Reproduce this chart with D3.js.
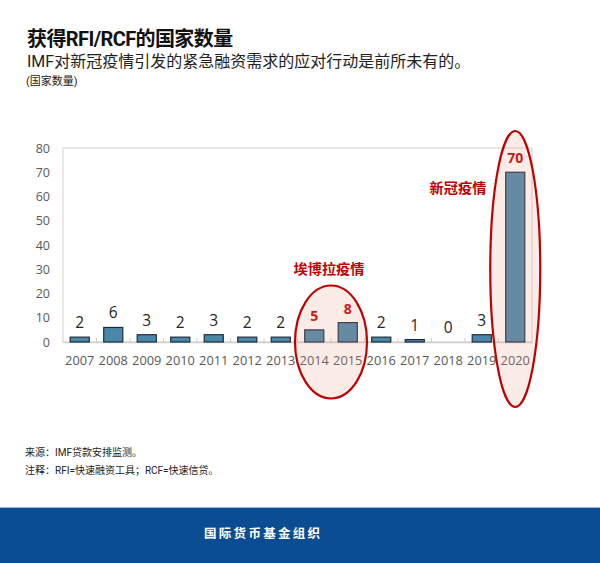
<!DOCTYPE html>
<html><head><meta charset="utf-8">
<script src="https://cdn.jsdelivr.net/npm/d3@7"></script>
<style>
body{margin:0;background:#fff;}
svg{display:block;}
</style></head>
<body>
<svg id="chart" width="600" height="563"></svg>
<script>
const years = ["2007","2008","2009","2010","2011","2012","2013","2014","2015","2016","2017","2018","2019","2020"];
const counts = [2,6,3,2,3,2,2,5,8,2,1,0,3,70];
const highlighted = ["2014","2015","2020"];
const yTicks = [0,10,20,30,40,50,60,70,80];
const titleText = "获得RFI/RCF的国家数量";
const subtitleText = "IMF对新冠疫情引发的紧急融资需求的应对行动是前所未有的。";
const unitText = "(国家数量)";
const sourceText = "来源：IMF贷款安排监测。";
const noteText = "注释：RFI=快速融资工具；RCF=快速信贷。";
const footerText = "国际货币基金组织";
const events = [
  {name:"埃博拉疫情", from:"2014", to:"2015"},
  {name:"新冠疫情", from:"2020", to:"2020"}
];

const svg = d3.select("#chart");
const cjk = "Roboto, 'Noto Sans CJK SC', sans-serif";
const num = "'Open Sans', 'Noto Sans CJK SC', sans-serif";

const L = 63, R = 532, T = 148, B = 342;
const x = d3.scaleBand().domain(years).range([L, R]).paddingInner(0.43).paddingOuter(0.215);
const y = d3.scaleLinear().domain([0, 80]).range([B, T]);

// titles
svg.append("text").attr("x", 27).attr("y", 46).attr("font-family", cjk).attr("font-weight", "bold")
  .attr("font-size", 20).attr("fill", "#111").attr("letter-spacing", -0.6).text(titleText);
svg.append("text").attr("x", 27).attr("y", 67).attr("font-family", cjk)
  .attr("font-size", 16).attr("fill", "#222").text(subtitleText);
svg.append("text").attr("x", 26).attr("y", 85).attr("font-family", cjk)
  .attr("font-size", 11).attr("fill", "#222").text(unitText);

// frame
svg.append("rect").attr("x", L).attr("y", T).attr("width", R - L).attr("height", B - T)
  .attr("fill", "none").attr("stroke", "#d9d9d9").attr("stroke-width", 1.2);

// y axis
const yAxis = d3.axisLeft(y).tickValues(yTicks).tickSize(0).tickPadding(13);
const gy = svg.append("g").attr("transform", `translate(${L},0)`).call(yAxis);
gy.select(".domain").remove();
gy.selectAll("text").attr("font-family", num).attr("font-size", 12.5).attr("fill", "#595959");

// x axis
const xAxis = d3.axisBottom(x).tickSize(0).tickPadding(14);
const gx = svg.append("g").attr("transform", `translate(0,${B})`).call(xAxis);
gx.select(".domain").attr("stroke", "#d0d0d0").attr("stroke-width", 1.5);
gx.selectAll("text").attr("font-family", num).attr("font-size", 12.8).attr("fill", "#595959");
// category separators
const step = x.step();
svg.append("g").selectAll("line").data(years.slice(1)).join("line")
  .attr("x1", d => x(d) - x.paddingInner() * step / 2)
  .attr("x2", d => x(d) - x.paddingInner() * step / 2)
  .attr("y1", B).attr("y2", B - 4)
  .attr("stroke", "#d0d0d0").attr("stroke-width", 1);

// bars
svg.append("g").selectAll("rect").data(years).join("rect")
  .attr("x", d => x(d)).attr("width", x.bandwidth())
  .attr("y", (d, i) => y(counts[i])).attr("height", (d, i) => B - y(counts[i]))
  .attr("fill", "#4a88ab").attr("stroke", "#1e2d38").attr("stroke-width", 1.2);

// value labels
svg.append("g").selectAll("text").data(years).join("text")
  .attr("x", d => x(d) + x.bandwidth() / 2)
  .attr("y", (d, i) => y(counts[i]) - 9)
  .attr("text-anchor", "middle")
  .attr("font-family", num)
  .attr("font-size", d => highlighted.includes(d) ? 14 : 15.5)
  .attr("font-weight", d => highlighted.includes(d) ? "bold" : "normal")
  .attr("fill", d => highlighted.includes(d) ? "#c00000" : "#262626")
  .text((d, i) => counts[i]);

// ellipses
const ell = [
  {cx: (x("2014") + x("2015") + x.bandwidth()) / 2, cy: B, rx: 36, ry: 56.5},
  {cx: x("2020") + x.bandwidth() / 2, cy: 269, rx: 25, ry: 138}
];
svg.append("g").selectAll("ellipse").data(ell).join("ellipse")
  .attr("cx", d => d.cx).attr("cy", d => d.cy).attr("rx", d => d.rx).attr("ry", d => d.ry)
  .attr("fill", "rgba(240,150,130,0.18)").attr("stroke", "#c00000").attr("stroke-width", 2.2);

// event labels
svg.append("text").attr("x", ell[0].cx - 2).attr("y", 274).attr("text-anchor", "middle")
  .attr("font-family", cjk).attr("font-weight", "bold").attr("font-size", 14.2).attr("fill", "#c00000")
  .text(events[0].name);
svg.append("text").attr("x", 458).attr("y", 193).attr("text-anchor", "middle")
  .attr("font-family", cjk).attr("font-weight", "bold").attr("font-size", 14.2).attr("fill", "#c00000")
  .text(events[1].name);

// notes
svg.append("text").attr("x", 25).attr("y", 456).attr("font-family", cjk)
  .attr("font-size", 10).attr("fill", "#222").text(sourceText);
svg.append("text").attr("x", 25).attr("y", 474).attr("font-family", cjk)
  .attr("font-size", 10).attr("fill", "#222").text(noteText);

// footer
svg.append("rect").attr("x", 0).attr("y", 507).attr("width", 600).attr("height", 56).attr("fill", "#0b4d93");
svg.append("rect").attr("x", 0).attr("y", 507).attr("width", 600).attr("height", 1).attr("fill", "#9db6d6");
svg.append("text").attr("x", 204).attr("y", 538).attr("font-family", cjk).attr("font-weight", "bold")
  .attr("font-size", 12.5).attr("letter-spacing", 2.3).attr("fill", "#fff").text(footerText);
</script>
</body></html>
